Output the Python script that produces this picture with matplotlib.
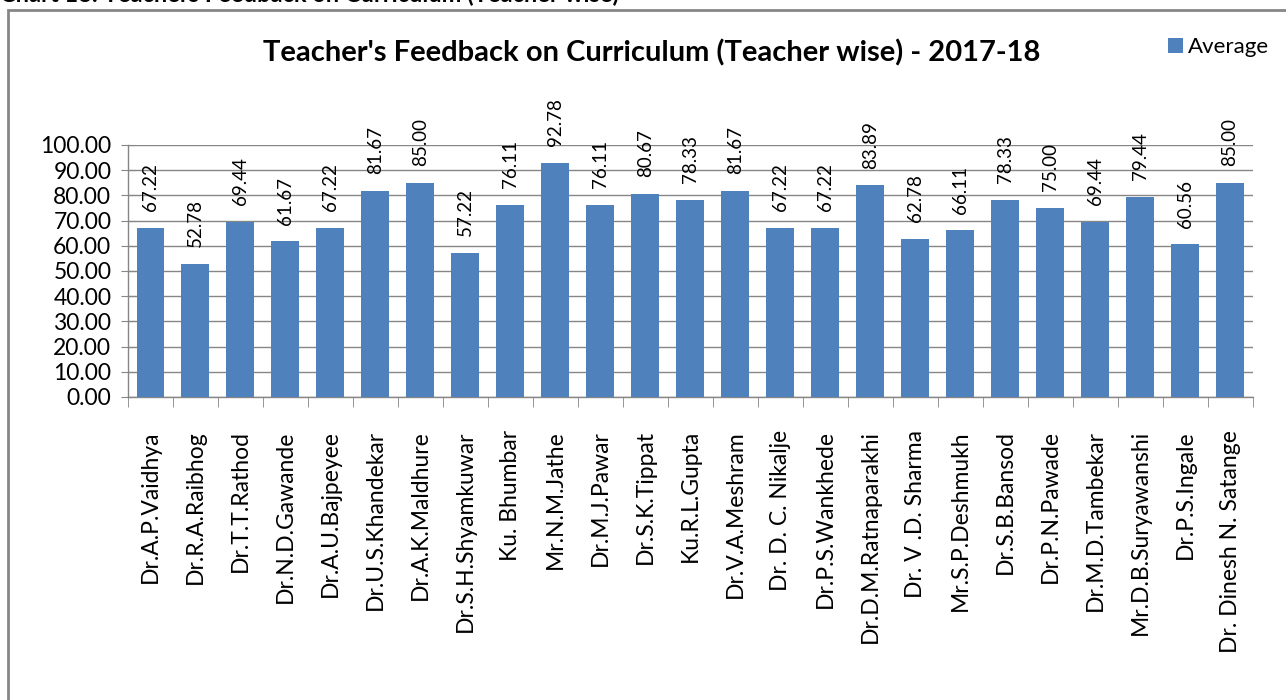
import numpy as np
import matplotlib.pyplot as plt
from matplotlib.patches import Rectangle

plt.rcParams['font.family'] = ['Lato', 'DejaVu Sans']

teachers = ['Dr.A.P.Vaidhya', 'Dr.R.A.Raibhog', 'Dr.T.T.Rathod', 'Dr.N.D.Gawande',
            'Dr.A.U.Bajpeyee', 'Dr.U.S.Khandekar', 'Dr.A.K.Maldhure', 'Dr.S.H.Shyamkuwar',
            'Ku. Bhumbar', 'Mr.N.M.Jathe', 'Dr.M.J.Pawar', 'Dr.S.K.Tippat', 'Ku.R.L.Gupta',
            'Dr.V.A.Meshram', 'Dr. D. C. Nikalje', 'Dr.P.S.Wankhede', 'Dr.D.M.Ratnaparakhi',
            'Dr. V .D. Sharma', 'Mr.S.P.Deshmukh', 'Dr.S.B.Bansod', 'Dr.P.N.Pawade',
            'Dr.M.D.Tambekar', 'Mr.D.B.Suryawanshi', 'Dr.P.S.Ingale', 'Dr. Dinesh N. Satange']
average = [67.22, 52.78, 69.44, 61.67, 67.22, 81.67, 85.00, 57.22, 76.11, 92.78,
           76.11, 80.67, 78.33, 81.67, 67.22, 67.22, 83.89, 62.78, 66.11, 78.33,
           75.00, 69.44, 79.44, 60.56, 85.00]
yticks = np.arange(0, 101, 10)

bar_color = '#4f81bd'
gray = '#868686'

fig = plt.figure(figsize=(12.86, 7.0), dpi=100)
ax = fig.add_axes([0.0995, 0.433, 0.8745, 0.36])

x = np.arange(len(teachers))
ax.bar(x, average, width=0.62, color=bar_color, label='Average', zorder=3)

for xi, v in zip(x, average):
    ax.annotate(f'{v:.2f}', (xi, v), xytext=(0, 12), textcoords='offset points',
                rotation=90, ha='center', va='bottom', fontsize=13.5)

ax.set_xlim(-0.5, len(teachers) - 0.5)
ax.set_ylim(0, 100)
ax.set_yticks(yticks)
ax.set_yticklabels([f'{t:.2f}' for t in yticks], fontsize=16.5)
ax.set_xticks(x)
ax.set_xticklabels(teachers, rotation=90, fontsize=16.5)
ax.set_xticks(np.arange(-0.5, len(teachers)), minor=True)
ax.tick_params(axis='x', which='major', length=0, pad=24)
ax.tick_params(axis='x', which='minor', length=7, color=gray, direction='out')
ax.tick_params(axis='y', length=10, color=gray, direction='inout', pad=7)

ax.grid(axis='y', color=gray, linewidth=1, zorder=0)
for s in ['top', 'right']:
    ax.spines[s].set_visible(False)
for s in ['left', 'bottom']:
    ax.spines[s].set_color(gray)
    ax.spines[s].set_linewidth(1)

fig.text(0.507, 0.925, "Teacher's Feedback on Curriculum (Teacher wise) - 2017-18",
         ha='center', va='center', fontsize=21, fontweight='bold')
fig.legend(loc='center left', bbox_to_anchor=(0.893, 0.933), frameon=False,
           fontsize=16, handlelength=0.65, handleheight=0.65, handletextpad=0.25)

# outer chart border and the cut-off caption above it
fig.patches.append(Rectangle((8 / 1286, -0.01), 1.0, 1 - 10 / 700 + 0.01,
                             transform=fig.transFigure, fill=False,
                             edgecolor=gray, linewidth=2))
fig.text(0.0, 1.008, 'Chart 18: Teachers Feedback on Curriculum (Teacher wise)',
         ha='left', va='center', fontsize=17, fontweight='bold')

fig.savefig('out.png', dpi=100)
